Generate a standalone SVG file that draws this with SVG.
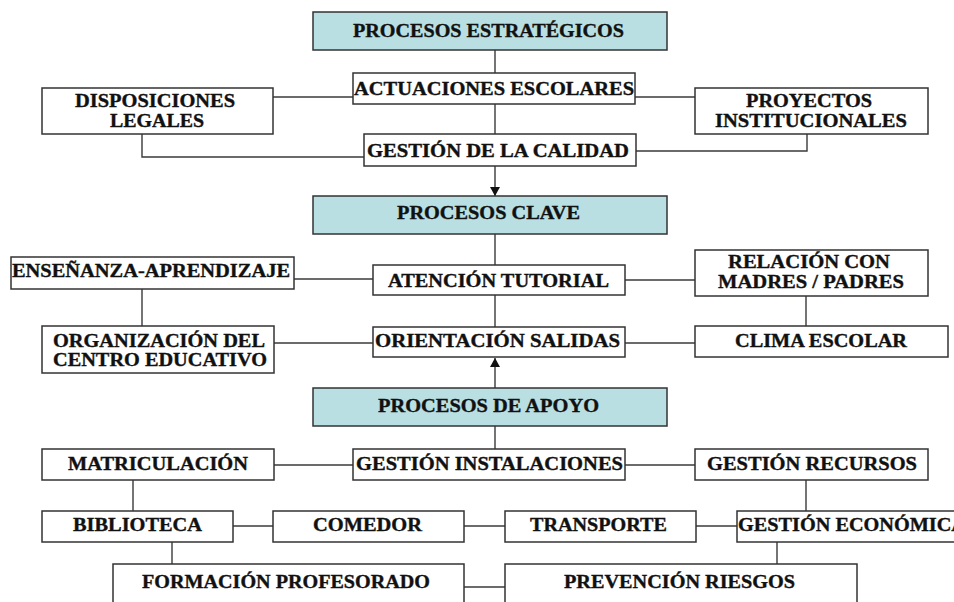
<svg xmlns="http://www.w3.org/2000/svg" width="954" height="602" viewBox="0 0 954 602">
<defs>
<style>
.box{fill:#ffffff;stroke:#333333;stroke-width:1.5}
.hdr{fill:#b9dfe2;stroke:#333333;stroke-width:1.5}
.t{font-family:"Liberation Serif","Times New Roman",serif;font-weight:bold;font-size:18px;fill:#111111;stroke:#111111;stroke-width:0.35}
.c{fill:none;stroke:#3a3a3a;stroke-width:1.4}
</style>
<marker id="ah" viewBox="0 0 10 10" refX="10" refY="5" markerWidth="9" markerHeight="10" markerUnits="userSpaceOnUse" orient="auto" preserveAspectRatio="none">
<path d="M0,0 L10,5 L0,10 Z" fill="#111111"/>
</marker>
</defs>
<rect width="954" height="602" fill="#ffffff"/>
<g id="connectors">
<line class="c" x1="495" y1="50" x2="495" y2="73"/>
<line class="c" x1="495" y1="104" x2="495" y2="134"/>
<line class="c" x1="495" y1="166" x2="495" y2="196" marker-end="url(#ah)"/>
<line class="c" x1="273" y1="97" x2="353" y2="97"/>
<line class="c" x1="635" y1="97" x2="695" y2="97"/>
<polyline class="c" points="142,134 142,157 364,157"/>
<polyline class="c" points="807,134 807,151 636,151"/>
<line class="c" x1="495" y1="234" x2="495" y2="265"/>
<line class="c" x1="495" y1="295" x2="495" y2="327"/>
<line class="c" x1="495" y1="388" x2="495" y2="358" marker-end="url(#ah)"/>
<line class="c" x1="294" y1="279" x2="373" y2="279"/>
<line class="c" x1="142" y1="289" x2="142" y2="326"/>
<line class="c" x1="274" y1="343" x2="373" y2="343"/>
<line class="c" x1="625" y1="280" x2="695" y2="280"/>
<line class="c" x1="806" y1="296" x2="806" y2="326"/>
<line class="c" x1="625" y1="343" x2="695" y2="343"/>
<line class="c" x1="495" y1="426" x2="495" y2="449"/>
<line class="c" x1="274" y1="465" x2="353" y2="465"/>
<line class="c" x1="625" y1="465" x2="695" y2="465"/>
<line class="c" x1="133" y1="480" x2="133" y2="511"/>
<line class="c" x1="806" y1="480" x2="806" y2="511"/>
<line class="c" x1="233" y1="526" x2="273" y2="526"/>
<line class="c" x1="464" y1="526" x2="505" y2="526"/>
<line class="c" x1="696" y1="526" x2="737" y2="526"/>
<line class="c" x1="172" y1="542" x2="172" y2="564"/>
<line class="c" x1="777" y1="542" x2="777" y2="564"/>
<line class="c" x1="464" y1="587" x2="505" y2="587"/>
</g>
<g id="procesos-estrategicos"><rect class="hdr" x="313" y="12" width="354" height="38"/><text class="t" x="353" y="37" textLength="271" lengthAdjust="spacingAndGlyphs">PROCESOS ESTRATÉGICOS</text></g>
<g id="actuaciones-escolares"><rect class="box" x="353" y="73" width="282" height="31"/><text class="t" x="354" y="95" textLength="280" lengthAdjust="spacingAndGlyphs">ACTUACIONES ESCOLARES</text></g>
<g id="disposiciones-legales"><rect class="box" x="42" y="88" width="231" height="46"/><text class="t" x="75" y="107" textLength="160" lengthAdjust="spacingAndGlyphs">DISPOSICIONES</text><text class="t" x="110" y="127" textLength="94" lengthAdjust="spacingAndGlyphs">LEGALES</text></g>
<g id="proyectos-institucionales"><rect class="box" x="695" y="88" width="233" height="46"/><text class="t" x="746" y="107" textLength="126" lengthAdjust="spacingAndGlyphs">PROYECTOS</text><text class="t" x="715" y="127" textLength="192" lengthAdjust="spacingAndGlyphs">INSTITUCIONALES</text></g>
<g id="gestion-calidad"><rect class="box" x="364" y="134" width="272" height="32"/><text class="t" x="367" y="157" textLength="262" lengthAdjust="spacingAndGlyphs">GESTIÓN DE LA CALIDAD</text></g>
<g id="procesos-clave"><rect class="hdr" x="313" y="196" width="354" height="38"/><text class="t" x="397" y="219" textLength="183" lengthAdjust="spacingAndGlyphs">PROCESOS CLAVE</text></g>
<g id="ensenanza-aprendizaje"><rect class="box" x="11" y="257" width="283" height="32"/><text class="t" x="12" y="277" textLength="278" lengthAdjust="spacingAndGlyphs">ENSEÑANZA-APRENDIZAJE</text></g>
<g id="atencion-tutorial"><rect class="box" x="373" y="265" width="252" height="30"/><text class="t" x="388" y="287" textLength="221" lengthAdjust="spacingAndGlyphs">ATENCIÓN TUTORIAL</text></g>
<g id="relacion-madres-padres"><rect class="box" x="695" y="250" width="233" height="46"/><text class="t" x="728" y="268" textLength="162" lengthAdjust="spacingAndGlyphs">RELACIÓN CON</text><text class="t" x="718" y="288" textLength="186" lengthAdjust="spacingAndGlyphs">MADRES / PADRES</text></g>
<g id="organizacion-centro"><rect class="box" x="42" y="326" width="232" height="47"/><text class="t" x="53" y="347" textLength="212" lengthAdjust="spacingAndGlyphs">ORGANIZACIÓN DEL</text><text class="t" x="53" y="366" textLength="214" lengthAdjust="spacingAndGlyphs">CENTRO EDUCATIVO</text></g>
<g id="orientacion-salidas"><rect class="box" x="373" y="327" width="252" height="30"/><text class="t" x="375" y="347" textLength="245" lengthAdjust="spacingAndGlyphs">ORIENTACIÓN SALIDAS</text></g>
<g id="clima-escolar"><rect class="box" x="695" y="326" width="253" height="31"/><text class="t" x="735" y="347" textLength="172" lengthAdjust="spacingAndGlyphs">CLIMA ESCOLAR</text></g>
<g id="procesos-apoyo"><rect class="hdr" x="313" y="388" width="354" height="38"/><text class="t" x="378" y="412" textLength="221" lengthAdjust="spacingAndGlyphs">PROCESOS DE APOYO</text></g>
<g id="matriculacion"><rect class="box" x="42" y="449" width="232" height="31"/><text class="t" x="68" y="470" textLength="180" lengthAdjust="spacingAndGlyphs">MATRICULACIÓN</text></g>
<g id="gestion-instalaciones"><rect class="box" x="353" y="449" width="272" height="31"/><text class="t" x="356" y="470" textLength="267" lengthAdjust="spacingAndGlyphs">GESTIÓN INSTALACIONES</text></g>
<g id="gestion-recursos"><rect class="box" x="695" y="449" width="233" height="31"/><text class="t" x="707" y="470" textLength="210" lengthAdjust="spacingAndGlyphs">GESTIÓN RECURSOS</text></g>
<g id="biblioteca"><rect class="box" x="42" y="511" width="191" height="31"/><text class="t" x="73" y="531" textLength="129" lengthAdjust="spacingAndGlyphs">BIBLIOTECA</text></g>
<g id="comedor"><rect class="box" x="273" y="511" width="191" height="31"/><text class="t" x="313" y="531" textLength="109" lengthAdjust="spacingAndGlyphs">COMEDOR</text></g>
<g id="transporte"><rect class="box" x="505" y="511" width="191" height="31"/><text class="t" x="530" y="531" textLength="137" lengthAdjust="spacingAndGlyphs">TRANSPORTE</text></g>
<g id="gestion-economica"><rect class="box" x="737" y="511" width="240" height="31"/><text class="t" x="738" y="531" textLength="228" lengthAdjust="spacingAndGlyphs">GESTIÓN ECONÓMICA</text></g>
<g id="formacion-profesorado"><rect class="box" x="113" y="564" width="351" height="60"/><text class="t" x="142" y="588" textLength="288" lengthAdjust="spacingAndGlyphs">FORMACIÓN PROFESORADO</text></g>
<g id="prevencion-riesgos"><rect class="box" x="505" y="564" width="352" height="60"/><text class="t" x="564" y="588" textLength="231" lengthAdjust="spacingAndGlyphs">PREVENCIÓN RIESGOS</text></g>
</svg>
